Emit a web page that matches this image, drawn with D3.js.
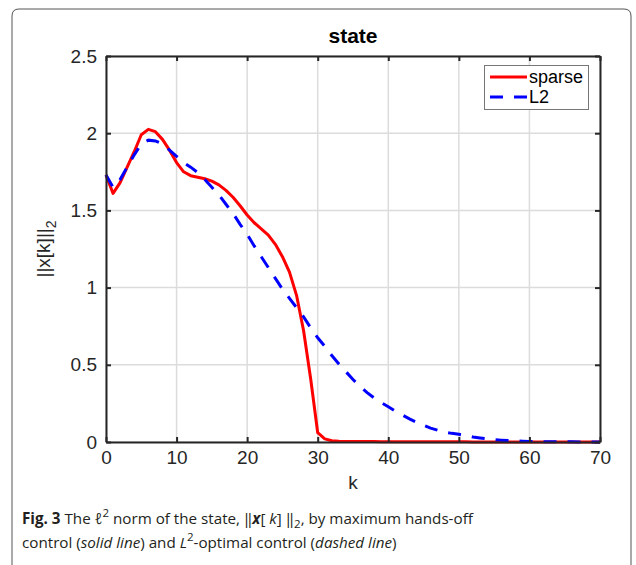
<!DOCTYPE html>
<html>
<script src="https://d3js.org/d3.v7.min.js"></script>
<style>
  body { margin: 0; background: #fff; }
  .plot text { font-family: "Liberation Sans", Arial, sans-serif; }
  .caption text { font-family: "Open Sans", "Noto Sans", sans-serif; }
</style>
<body>
<svg width="636" height="565"></svg>
<script>
// state norm ||x[k]||_2 for k = 0..70
var kValues = d3.range(0, 71);
var sparse = [1.73, 1.61, 1.68, 1.78, 1.88, 1.99, 2.025, 2.01, 1.96, 1.89,
              1.81, 1.75, 1.725, 1.715, 1.705, 1.69, 1.665, 1.63, 1.585, 1.53,
              1.47, 1.42, 1.38, 1.34, 1.28, 1.20, 1.10, 0.95, 0.72, 0.41,
              0.06, 0.02, 0.008, 0.005, 0.004, 0.004, 0.003, 0.003, 0.003, 0.002,
              0.002, 0.002, 0.002, 0.001, 0.001, 0.001, 0.001, 0.001, 0.001, 0.001,
              0.001, 0.001, 0, 0, 0, 0, 0, 0, 0, 0,
              0, 0, 0, 0, 0, 0, 0, 0, 0, 0, 0];
var l2 = [1.73, 1.65, 1.70, 1.78, 1.86, 1.93, 1.955, 1.95, 1.93, 1.89,
          1.85, 1.81, 1.78, 1.745, 1.70, 1.65, 1.60, 1.54, 1.48, 1.41,
          1.345, 1.27, 1.20, 1.13, 1.06, 0.99, 0.93, 0.87, 0.81, 0.74,
          0.675, 0.62, 0.56, 0.505, 0.455, 0.405, 0.36, 0.32, 0.285, 0.255,
          0.228, 0.20, 0.175, 0.15, 0.128, 0.108, 0.09, 0.076, 0.064, 0.056,
          0.05, 0.042, 0.033, 0.026, 0.02, 0.016, 0.012, 0.009, 0.007, 0.005,
          0.004, 0.003, 0.002, 0.002, 0.001, 0.001, 0.001, 0, 0, 0, 0];
var xTicks = [0, 10, 20, 30, 40, 50, 60, 70];
var yTicks = [0, 0.5, 1, 1.5, 2, 2.5];
var seriesNames = ["sparse", "L2"];

var svg = d3.select("svg");
var mLeft = 106, mRight = 600, mTop = 56, mBottom = 442;

// figure frame (rounded top, open at the bottom)
svg.append("path")
   .attr("d", "M12,565 V16 Q12,9 19,9 H624 Q631,9 631,16 V565")
   .attr("fill", "none").attr("stroke", "#555").attr("stroke-width", 1);

var plot = svg.append("g").attr("class", "plot");
var x = d3.scaleLinear().domain([0, 70]).range([mLeft, mRight]);
var y = d3.scaleLinear().domain([0, 2.5]).range([mBottom, mTop]);

// grid
plot.selectAll(".gx").data(xTicks).enter().append("line")
 .attr("x1", d => x(d)).attr("x2", d => x(d)).attr("y1", mTop).attr("y2", mBottom)
 .attr("stroke", "#dcdcdc").attr("stroke-width", 1.5);
plot.selectAll(".gy").data(yTicks).enter().append("line")
 .attr("y1", d => y(d)).attr("y2", d => y(d)).attr("x1", mLeft).attr("x2", mRight)
 .attr("stroke", "#dcdcdc").attr("stroke-width", 1.5);

// lines
var line = function(vals) {
  return d3.line().x((d, i) => x(kValues[i])).y(d => y(d))(vals);
};
plot.append("path").attr("d", line(sparse))
   .attr("fill", "none").attr("stroke", "#ff0000").attr("stroke-width", 3)
   .attr("stroke-linejoin", "round");
plot.append("path").attr("d", line(l2))
   .attr("fill", "none").attr("stroke", "#0000ff").attr("stroke-width", 3)
   .attr("stroke-dasharray", "13,11");

// axes: box with inward ticks on all sides (MATLAB style)
var axBottom = d3.axisBottom(x).tickValues(xTicks).tickSizeInner(-5).tickSizeOuter(0).tickPadding(9);
var axLeft = d3.axisLeft(y).tickValues(yTicks).tickSizeInner(-5).tickSizeOuter(0).tickPadding(9)
               .tickFormat(d3.format("~g"));
var axTop = d3.axisTop(x).tickValues(xTicks).tickSizeInner(-5).tickSizeOuter(0).tickFormat("");
var axRight = d3.axisRight(y).tickValues(yTicks).tickSizeInner(-5).tickSizeOuter(0).tickFormat("");

[[axBottom, "translate(0," + mBottom + ")"], [axLeft, "translate(" + mLeft + ",0)"],
 [axTop, "translate(0," + mTop + ")"], [axRight, "translate(" + mRight + ",0)"]].forEach(function(a) {
  var ax = plot.append("g").attr("transform", a[1]).call(a[0]);
  ax.select(".domain").attr("stroke", "#262626").attr("stroke-width", 2);
  ax.selectAll(".tick line").attr("stroke", "#262626").attr("stroke-width", 2);
  ax.selectAll("text").attr("font-size", 19).attr("fill", "#262626");
});

// title and labels
plot.append("text").attr("x", (mLeft + mRight) / 2).attr("y", 43)
   .attr("text-anchor", "middle").attr("font-size", 21).attr("font-weight", "bold")
   .attr("fill", "#000").text("state");
plot.append("text").attr("x", (mLeft + mRight) / 2).attr("y", 489)
   .attr("text-anchor", "middle").attr("font-size", 19).attr("fill", "#262626").text("k");
var yl = plot.append("text").attr("transform", "translate(50," + ((mTop + mBottom) / 2) + ") rotate(-90)")
   .attr("text-anchor", "middle").attr("font-size", 19).attr("fill", "#262626");
yl.append("tspan").text("||x[k]||");
yl.append("tspan").attr("dy", 6).attr("font-size", 14).text("2");

// legend
var lg = plot.append("g");
lg.append("rect").attr("x", 484.5).attr("y", 65.5).attr("width", 104).attr("height", 44)
  .attr("fill", "#fff").attr("stroke", "#777").attr("stroke-width", 1);
var legColors = ["#ff0000", "#0000ff"], legDash = [null, "13,11"];
seriesNames.forEach(function(name, i) {
  var ly = 77 + i * 20;
  lg.append("line").attr("x1", 490).attr("x2", 527).attr("y1", ly).attr("y2", ly)
    .attr("stroke", legColors[i]).attr("stroke-width", 3).attr("stroke-dasharray", legDash[i]);
  lg.append("text").attr("x", 529).attr("y", ly + 6).attr("font-size", 18)
    .attr("fill", "#000").text(name);
});

// caption
var cap = svg.append("g").attr("class", "caption")
             .attr("font-size", 15.2).attr("fill", "#231f20");
var c1 = cap.append("text").attr("x", 22).attr("y", 524);
c1.append("tspan").attr("font-weight", "bold").text("Fig. 3");
c1.append("tspan").text(" The ");
c1.append("tspan").attr("font-style", "italic").text("\u2113");
c1.append("tspan").attr("dy", -7).attr("font-size", 11.5).text("2");
c1.append("tspan").attr("dy", 7).text(" norm of the state, \u2016");
c1.append("tspan").attr("font-weight", "bold").attr("font-style", "italic").text("x");
c1.append("tspan").text("[ ");
c1.append("tspan").attr("font-style", "italic").text("k");
c1.append("tspan").text("] \u2016");
c1.append("tspan").attr("dy", 4).attr("font-size", 11.5).text("2");
c1.append("tspan").attr("dy", -4).text(", by maximum hands-off");
var c2 = cap.append("text").attr("x", 22).attr("y", 548);
c2.append("tspan").text("control (");
c2.append("tspan").attr("font-style", "italic").text("solid line");
c2.append("tspan").text(") and ");
c2.append("tspan").attr("font-style", "italic").text("L");
c2.append("tspan").attr("dy", -7).attr("font-size", 11.5).text("2");
c2.append("tspan").attr("dy", 7).text("-optimal control (");
c2.append("tspan").attr("font-style", "italic").text("dashed line");
c2.append("tspan").text(")");
</script>
</body>
</html>
